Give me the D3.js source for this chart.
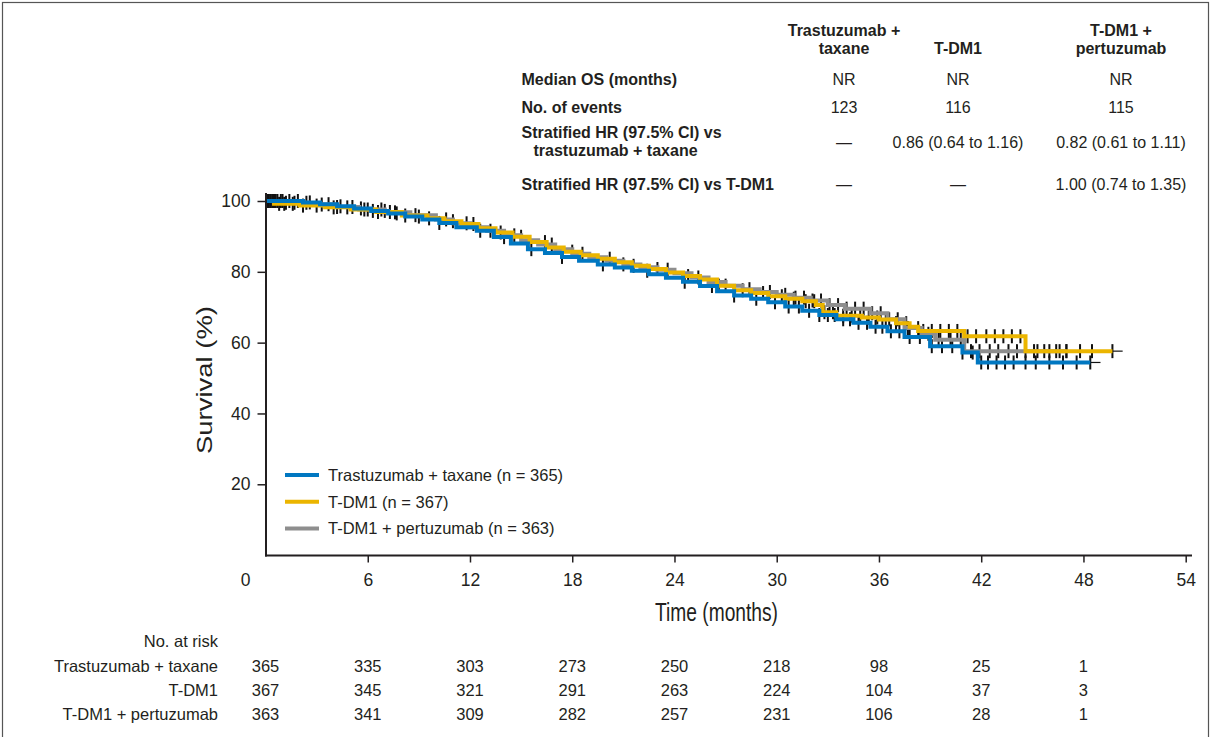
<!DOCTYPE html>
<html lang="en">
<head>
<meta charset="utf-8">
<title>Overall survival</title>
<script src="https://cdn.jsdelivr.net/npm/d3@7"></script>
<style>
  body { margin: 0; background: #fff; }
  svg text { font-family: "Liberation Sans", Arial, Helvetica, sans-serif; fill: #231f20; }
</style>
</head>
<body>
<div class="chart"></div>
<script>
// ---- data ----
const xTicks = [0, 6, 12, 18, 24, 30, 36, 42, 48, 54];
const yTicks = [20, 40, 60, 80, 100];

const armNames = ["Trastuzumab + taxane", "T-DM1", "T-DM1 + pertuzumab"];
const armSizes = [365, 367, 363];

// KM steps: [month, survival %], last point = end of follow-up
const kmTaxane = [[0,100],[2.2,99.6],[3.2,99.1],[4.2,98.5],[5.2,97.9],[6.2,97.2],[7.2,96.5],[8.2,95.6],[9.2,94.8],[10.2,93.8],[11.2,92.6],[12.4,91.6],[13.4,89.8],[14.4,88],[15.4,86.4],[16.4,85.3],[17.4,84.2],[18.4,83.1],[19.5,82.1],[20.5,81.2],[21.5,80.3],[22.5,79.3],[23.5,78.3],[24.5,77.2],[25.5,76],[26.5,74.5],[27.5,73.3],[28.5,72.4],[29.5,71.4],[30.5,70.2],[31.5,69],[32.5,67.8],[33.5,66.6],[34.5,65.6],[35.5,64.5],[36.5,63.2],[37.5,61.6],[39,59],[40.9,57.2],[41.8,54.4],[48.4,54.4]];
const kmTdm1 = [[0,100],[0.5,99.2],[2,98.7],[3.5,98.2],[5,97.6],[6.5,96.9],[8,95.9],[9.5,95.1],[10.5,94.3],[11.5,93.5],[12.5,92.3],[13.5,91.1],[14.5,89.9],[15.5,88.4],[16.5,86.9],[17.5,85.7],[18.5,84.7],[19.5,83.7],[20.5,82.7],[21.5,81.7],[22.5,80.8],[23.5,79.8],[24.5,78.8],[25.5,77.8],[26.5,76.1],[27.5,74.8],[28.5,74],[29.5,73.1],[30.5,72.4],[31.5,71.7],[32.3,70.6],[32.7,68.6],[33.5,67.6],[35,67.1],[36,66.5],[37,65.5],[37.8,64.5],[38.3,63.3],[41,61.8],[44.6,57.6],[49.7,57.6]];
const kmTdm1P = [[0,100],[1,99.5],[2.5,99],[4,98.3],[5.5,97.6],[7,96.8],[8.5,96],[10,94.8],[11,93.7],[12,92.6],[13,91.6],[14,90.3],[15,88.9],[16,87.7],[17,86.4],[18,85.1],[19,84.1],[20,83.1],[21,82.1],[22,81.3],[23,80.6],[24,79.6],[25,78.4],[26,77.1],[27,76.1],[28,75.1],[29,74.3],[30,73.5],[31,72.7],[32,71.9],[33,70.6],[34,69.6],[35.5,68.3],[36.5,66.6],[37.5,64.1],[38.5,62.5],[39.3,60.8],[41,57.6],[47,57.6]];

// censoring times (months)
const censorTaxane = [0.1,0.3,0.5,0.7,1.0,1.4,1.9,2.6,3.7,4.4,5.6,6.3,7.0,7.7,9.0,10.2,12.6,14.0,15.6,17.4,19.8,22.4,24.6,26.2,27.5,28.8,29.9,30.7,31.3,31.9,32.5,33.0,33.4,33.9,34.3,34.8,35.3,35.8,36.2,36.7,37.2,37.8,38.4,39.1,39.7,40.3,40.9,41.5,42.0,42.4,42.9,43.4,43.9,44.6,45.2,46.0,46.8,47.6,48.4];
const censorTdm1 = [0.2,0.4,0.8,1.1,1.6,2.2,3.0,4.0,4.8,5.8,6.6,7.3,8.2,9.6,11.0,12.2,13.8,15.0,16.4,18.0,20.2,21.6,23.0,24.8,26.6,28.0,29.2,30.3,31.0,31.7,32.2,32.8,33.3,33.9,34.4,34.9,35.4,35.9,36.4,37.0,37.6,38.6,39.1,39.6,40.1,40.6,41.2,41.7,42.3,42.8,43.3,43.8,44.3,45.1,45.7,46.4,47.0,47.8,48.5,49.7];
const censorTdm1P = [0.1,0.3,0.6,0.9,1.2,1.7,2.4,3.3,4.2,5.1,6.0,6.8,7.6,8.8,10.6,11.8,13.2,14.6,16.8,18.6,21.0,23.6,25.4,27.0,28.4,29.6,30.5,31.1,31.6,32.1,32.6,33.1,33.6,34.1,34.6,35.1,35.6,36.1,36.6,37.1,37.7,38.3,38.9,39.5,40.2,40.8,41.4,41.9,42.5,43.0,43.6,44.1,44.6,45.3,46.0,46.6,47.0];

// number at risk
const riskTimes = [0, 6, 12, 18, 24, 30, 36, 42, 48];
const riskTaxane = [365, 335, 303, 273, 250, 218, 98, 25, 1];
const riskTdm1 = [367, 345, 321, 291, 263, 224, 104, 37, 3];
const riskTdm1P = [363, 341, 309, 282, 257, 231, 106, 28, 1];

// summary table
const tableHeads = [["Trastuzumab +", "taxane"], ["T-DM1"], ["T-DM1 +", "pertuzumab"]];
const tableLabels = [["Median OS (months)"], ["No. of events"], ["Stratified HR (97.5% CI) vs", "trastuzumab + taxane"], ["Stratified HR (97.5% CI) vs T-DM1"]];
const medianOS = ["NR", "NR", "NR"];
const numEvents = ["123", "116", "115"];
const hrVsTaxane = ["\u2014", "0.86 (0.64 to 1.16)", "0.82 (0.61 to 1.11)"];
const hrVsTdm1 = ["\u2014", "\u2014", "1.00 (0.74 to 1.35)"];

// ---- drawing ----
const W = 1213, H = 737;
const colors = ["#0077c1", "#ebb500", "#8e8e8e"];

const series = [
  {name: armNames[0], n: armSizes[0], km: kmTaxane, censor: censorTaxane, risk: riskTaxane, color: colors[0]},
  {name: armNames[1], n: armSizes[1], km: kmTdm1, censor: censorTdm1, risk: riskTdm1, color: colors[1]},
  {name: armNames[2], n: armSizes[2], km: kmTdm1P, censor: censorTdm1P, risk: riskTdm1P, color: colors[2]}
];

const svg = d3.select(".chart").append("svg")
  .attr("width", W).attr("height", H);

// frame
svg.append("rect")
  .attr("x", 2.5).attr("y", 2.5).attr("width", 1206).attr("height", 745)
  .attr("fill", "none").attr("stroke", "#555").attr("stroke-width", 1.2);

const x = d3.scaleLinear().domain([0, 54]).range([265.5, 1185.7]);
const y = d3.scaleLinear().domain([0, 100]).range([555.1, 201]);

// survival value at time t
function survAt(km, t) {
  let v = km[0][1];
  for (const p of km) { if (p[0] <= t) v = p[1]; }
  return v;
}

// censor marks
const marks = svg.append("g");
series.forEach(s => {
  marks.selectAll(null)
    .data(s.censor)
    .enter()
    .append("line")
    .attr("x1", d => x(d)).attr("x2", d => x(d))
    .attr("y1", d => y(survAt(s.km, d)) - 7)
    .attr("y2", d => y(survAt(s.km, d)) + 7)
    .attr("stroke", "#111").attr("stroke-width", 2);
  // thin tail after the last observation
  const last = s.km[s.km.length - 1];
  marks.append("line")
    .attr("x1", x(last[0])).attr("x2", x(last[0] + 0.6))
    .attr("y1", y(last[1])).attr("y2", y(last[1]))
    .attr("stroke", "#111").attr("stroke-width", 1.2);
});

// KM curves: gray, yellow, blue on top
const line = d3.line().x(d => x(d[0])).y(d => y(d[1])).curve(d3.curveStepAfter);
[2, 1, 0].forEach(i => {
  svg.append("path")
    .datum(series[i].km)
    .attr("d", line)
    .attr("fill", "none")
    .attr("stroke", series[i].color)
    .attr("stroke-width", 4);
});

// axes
const xAxis = d3.axisBottom(x).tickValues(xTicks).tickSize(7).tickPadding(11).tickSizeOuter(0);
const gx = svg.append("g").attr("transform", "translate(0,555.5)").call(xAxis);
gx.select(".domain").remove();
gx.selectAll(".tick line").attr("stroke", "#231f20").attr("stroke-width", 1.5);
gx.selectAll(".tick text").attr("font-size", 17.5).attr("font-family", "Liberation Sans, Arial, sans-serif");
gx.selectAll(".tick").filter(d => d === 0).select("line").remove();
gx.selectAll(".tick").filter(d => d === 0).select("text").attr("x", -20.5);

const yAxis = d3.axisLeft(y).tickValues(yTicks).tickSize(8.5).tickPadding(7).tickSizeOuter(0);
const gy = svg.append("g").attr("transform", "translate(266,0)").call(yAxis);
gy.select(".domain").remove();
gy.selectAll(".tick line").attr("stroke", "#231f20").attr("stroke-width", 1.5);
gy.selectAll(".tick text").attr("font-size", 17.5).attr("font-family", "Liberation Sans, Arial, sans-serif");

svg.append("line").attr("x1", 266).attr("x2", 266).attr("y1", 193).attr("y2", 556.5)
  .attr("stroke", "#231f20").attr("stroke-width", 2);
svg.append("line").attr("x1", 265).attr("x2", 1192).attr("y1", 555.5).attr("y2", 555.5)
  .attr("stroke", "#231f20").attr("stroke-width", 2);

// axis titles
svg.append("text")
  .attr("x", 655).attr("y", 621)
  .attr("font-size", 26)
  .attr("textLength", 123).attr("lengthAdjust", "spacingAndGlyphs")
  .text("Time (months)");
svg.append("text")
  .attr("transform", "translate(212,380) rotate(-90)")
  .attr("text-anchor", "middle")
  .attr("font-size", 22)
  .attr("textLength", 148).attr("lengthAdjust", "spacingAndGlyphs")
  .text("Survival (%)");

// legend
const legend = svg.append("g").attr("transform", "translate(285,475)");
series.forEach((s, i) => {
  legend.append("line")
    .attr("x1", 0).attr("x2", 34).attr("y1", i * 26.8).attr("y2", i * 26.8)
    .attr("stroke", s.color).attr("stroke-width", 4);
  legend.append("text")
    .attr("x", 43).attr("y", i * 26.8 + 5.8)
    .attr("font-size", 16.5)
    .text(`${s.name} (n = ${s.n})`);
});

// number at risk table
svg.append("text").attr("x", 218).attr("y", 647).attr("text-anchor", "end")
  .attr("font-size", 16.5).text("No. at risk");
series.forEach((s, i) => {
  const ry = 671.5 + i * 24.3;
  svg.append("text").attr("x", 218).attr("y", ry).attr("text-anchor", "end")
    .attr("font-size", 16.5).text(s.name);
  svg.selectAll(null)
    .data(riskTimes)
    .enter()
    .append("text")
    .attr("x", d => x(d)).attr("y", ry)
    .attr("text-anchor", "middle")
    .attr("font-size", 16.5)
    .text((d, j) => s.risk[j]);
});

// summary table at top
const colX = [844, 958, 1121];
const table = svg.append("g");
tableHeads.forEach((h, i) => {
  const base = h.length === 2 ? 35.7 : 54.3;
  h.forEach((t, k) => {
    table.append("text").attr("x", colX[i]).attr("y", base + k * 18.6)
      .attr("text-anchor", "middle").attr("font-size", 16).attr("font-weight", "bold").text(t);
  });
});
const rowBase = [85, 113, 137.5, 190];
tableLabels.forEach((lab, r) => {
  lab.forEach((t, k) => {
    table.append("text").attr("x", 521.5 + k * 12).attr("y", rowBase[r] + k * 18.6)
      .attr("font-size", 16).attr("font-weight", "bold").text(t);
  });
});
const rowVals = [medianOS, numEvents, hrVsTaxane, hrVsTdm1];
const valBase = [85, 113, 148, 190];
rowVals.forEach((vals, r) => {
  vals.forEach((v, i) => {
    table.append("text").attr("x", colX[i]).attr("y", valBase[r])
      .attr("text-anchor", "middle").attr("font-size", 16).text(v);
  });
});
</script>
</body>
</html>
